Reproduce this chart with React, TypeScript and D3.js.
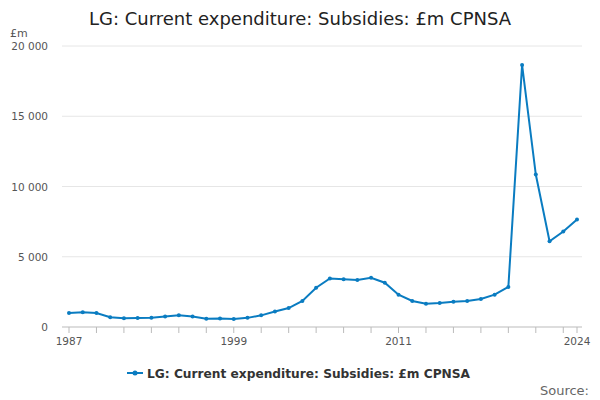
import React, { useEffect, useRef } from 'react';
import * as d3 from 'd3';

const years = d3.range(1987, 2025);
const values = [1000, 1050, 1000, 700, 620, 640, 650, 750, 830, 750, 580, 600, 570, 650, 830, 1100, 1350, 1850, 2800, 3450, 3400, 3350, 3500, 3150, 2300, 1850, 1650, 1700, 1800, 1850, 2000, 2300, 2850, 18650, 10850, 6100, 6800, 7650];
const yTicks = [0, 5000, 10000, 15000, 20000];
const xLabels = [1987, 1999, 2011, 2024];
const title = 'LG: Current expenditure: Subsidies: £m CPNSA';
const color = '#0a7cc1';

const App: React.FC = () => {
  const ref = useRef<SVGSVGElement>(null);
  useEffect(() => {
    const svg = d3.select(ref.current);
    svg.selectAll('*').remove();
    const font = '"DejaVu Sans", sans-serif';
    const x = d3.scaleLinear().domain([1987, 2024]).range([69, 577]);
    const y = d3.scaleLinear().domain([0, 20000]).range([327, 46]);
    const fmt = (v: number) => d3.format(',')(v).replace(',', ' ');

    svg.append('text').attr('x', 300).attr('y', 25).attr('text-anchor', 'middle')
      .attr('font-family', font).attr('font-size', 18).attr('fill', '#222').text(title);
    svg.append('text').attr('x', 10).attr('y', 37).attr('font-family', font)
      .attr('font-size', 11).attr('fill', '#555').text('£m');

    const g = svg.append('g');
    yTicks.forEach(t => {
      g.append('line').attr('x1', 62).attr('x2', 582).attr('y1', y(t)).attr('y2', y(t))
        .attr('stroke', t === 0 ? '#bbb' : '#e6e6e6');
      g.append('text').attr('x', 48).attr('y', y(t) + 4).attr('text-anchor', 'end')
        .attr('font-family', font).attr('font-size', 10.5).attr('fill', '#555').text(fmt(t));
    });
    const tickYears = d3.range(1987, 2025, 2).concat([2024]);
    tickYears.forEach(t => {
      g.append('line').attr('x1', x(t)).attr('x2', x(t)).attr('y1', 327).attr('y2', 333)
        .attr('stroke', '#bbb');
    });
    xLabels.forEach(t => {
      g.append('text').attr('x', x(t)).attr('y', 345).attr('text-anchor', 'middle')
        .attr('font-family', font).attr('font-size', 10.5).attr('fill', '#555').text(t);
    });

    const line = d3.line<number>().x((_, i) => x(years[i])).y(d => y(d));
    g.append('path').datum(values).attr('d', line).attr('fill', 'none')
      .attr('stroke', color).attr('stroke-width', 2);
    g.selectAll('circle.p').data(values).join('circle').attr('class', 'p')
      .attr('cx', (_, i) => x(years[i])).attr('cy', d => y(d)).attr('r', 2).attr('fill', color);

    const lg = svg.append('g').attr('transform', 'translate(127,373)');
    lg.append('line').attr('x1', 0).attr('x2', 16).attr('stroke', color).attr('stroke-width', 2);
    lg.append('circle').attr('cx', 8).attr('r', 2.5).attr('fill', color);
    lg.append('text').attr('x', 20).attr('y', 4.5).attr('font-family', font).attr('font-size', 12.2)
      .attr('font-weight', 'bold').attr('fill', '#333').text(title);

    svg.append('text').attr('x', 589).attr('y', 395).attr('text-anchor', 'end')
      .attr('font-family', font).attr('font-size', 13).attr('fill', '#666').text('Source:');
  }, []);
  return <svg ref={ref} width={600} height={400} style={{ position: 'absolute', left: 0, top: 0 }} />;
};

export default App;
